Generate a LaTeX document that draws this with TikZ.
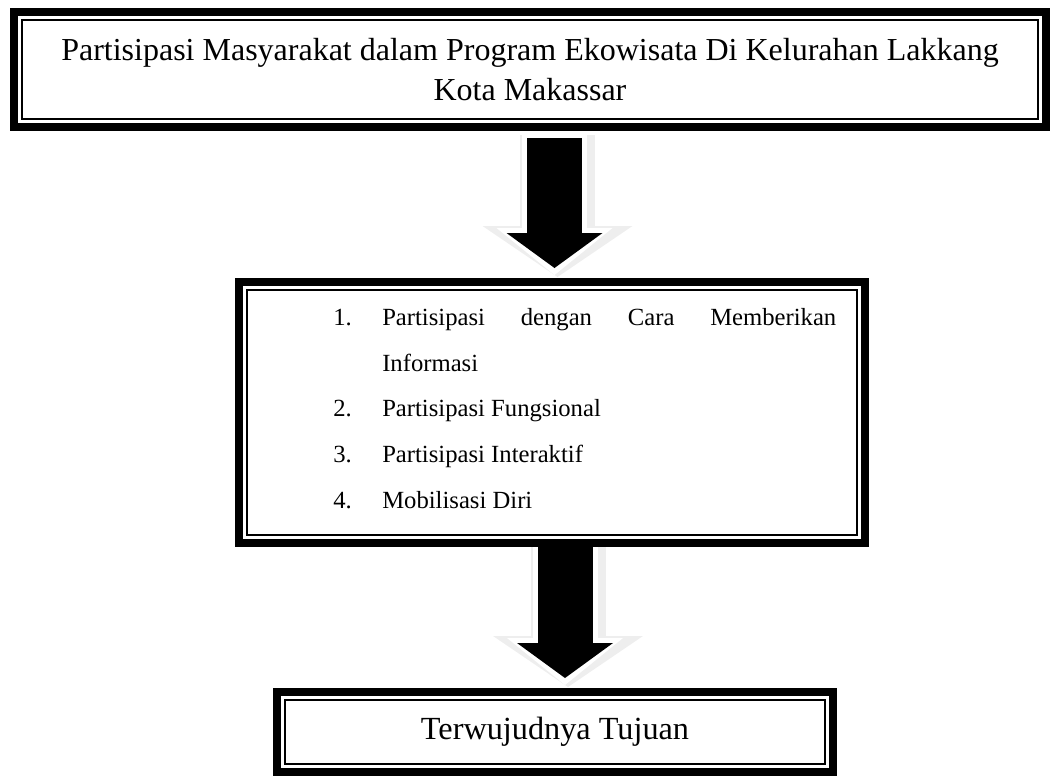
\documentclass[tikz,border=0pt]{standalone}
\usepackage{fontspec}
\setmainfont{Liberation Serif}
\usetikzlibrary{arrows.meta,calc}
\newcommand{\innerframe}[1]{\draw[line width=1.75pt] ($(#1.north west)+(8.2,8.2)$) rectangle ($(#1.south east)+(-8.2,-8.2)$);}
\newcommand{\listitem}[2]{\hangindent=36.75pt\hangafter=1\noindent\makebox[36.75pt][l]{#1}#2\par}
\begin{document}
\begin{tikzpicture}[x=0.75pt,y=-0.75pt,
  frame/.style={draw,line width=6.4pt,inner sep=0pt,outer sep=0pt},
  blockarrow/.style={black,line width=41.25pt,-{Triangle[width=72pt,length=26.25pt,line width=0pt]}},
  haloarrow/.style={white,line width=48.75pt,-{Triangle[width=87pt,length=35.25pt,line width=0pt]}},
  shadearrow/.style={gray!13,line width=56.25pt,-{Triangle[width=112.5pt,length=38.25pt,line width=0pt]}}]
  \useasboundingbox (0,0) rectangle (1055,775);
  % Top box
  \node[frame,minimum width=774pt,minimum height=86.25pt,align=center,font=\fontsize{24}{30}\selectfont] (top) at (530,69.5) {Partisipasi Masyarakat dalam Program Ekowisata Di Kelurahan Lakkang\\Kota Makassar};
  \innerframe{top}
  % Middle box with the list
  \node[frame,minimum width=469.5pt,minimum height=195.75pt] (mid) at (552,412.5) {};
  \innerframe{mid}
  \node[anchor=north west,inner sep=0pt,text width=377.25pt,align=justify,font=\fontsize{18.5}{34.3}\selectfont] (items) at ($(mid.north west)+(94,26)$) {\tolerance=10000\hyphenpenalty=10000
    \listitem{1.}{Partisipasi dengan Cara Memberikan Informasi}
    \listitem{2.}{Partisipasi Fungsional}
    \listitem{3.}{Partisipasi Interaktif}
    \listitem{4.}{Mobilisasi Diri}};
  % Bottom box
  \node[frame,minimum width=417pt,minimum height=60pt,font=\fontsize{24.2}{30}\selectfont] (bot) at (555,732) {Terwujudnya Tujuan};
  \innerframe{bot}
  % Arrow top -> middle
  \coordinate (a1s) at ($(top.south)+(24.5,11)$);
  \coordinate (a1e) at ($(mid.north)+(2.5,-14)$);
  \draw[shadearrow] ($(a1s)+(3,-3)$) -- ($(a1e)+(3,9)$);
  \draw[haloarrow] ($(a1s)+(0,-4)$) -- ($(a1e)+(0,7)$);
  \draw[blockarrow] (a1s) -- (a1e);
  % Arrow middle -> bottom
  \coordinate (a2s) at ($(mid.south)+(13,4)$);
  \coordinate (a2e) at ($(bot.north)+(10,-14)$);
  \draw[shadearrow] ($(a2s)+(3,0)$) -- ($(a2e)+(3,9)$);
  \draw[haloarrow] (a2s) -- ($(a2e)+(0,7)$);
  \draw[blockarrow] (a2s) -- (a2e);
\end{tikzpicture}
\end{document}
